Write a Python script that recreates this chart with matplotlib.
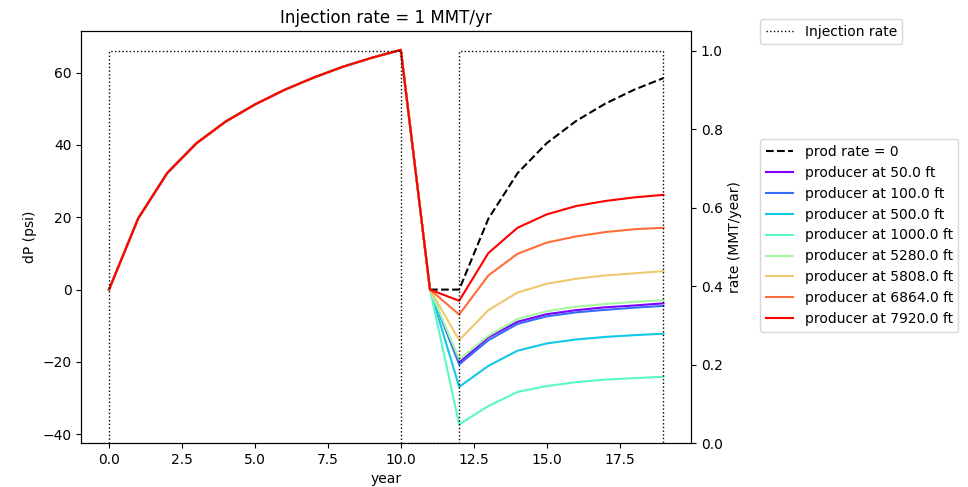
import numpy as np
import matplotlib
matplotlib.use('Agg')
import matplotlib.pyplot as plt

# jaren
years = np.arange(0, 20)

# drukopbouw tijdens injectie (jaar 0 t/m 10), zelfde voor alle reeksen
build_up = [0.0, 19.7, 32.3, 40.5, 46.5, 51.2, 55.2, 58.6, 61.6, 64.1, 66.3]

# jaar 11 t/m 19
no_prod = [0.0, 0.0, 19.6, 32.2, 40.5, 46.6, 51.4, 55.3, 58.5]
distances = [50.0, 100.0, 500.0, 1000.0, 5280.0, 5808.0, 6864.0, 7920.0]
after = [
    [0.0, -20.2, -13.2, -8.9, -6.8, -5.7, -4.9, -4.4, -3.8],
    [0.0, -20.7, -14.0, -9.5, -7.4, -6.3, -5.6, -5.0, -4.5],
    [0.0, -26.9, -21.1, -16.9, -14.9, -13.8, -13.1, -12.6, -12.2],
    [0.0, -37.3, -32.2, -28.3, -26.7, -25.6, -24.9, -24.5, -24.1],
    [0.0, -19.3, -12.8, -8.1, -6.0, -4.7, -4.0, -3.4, -2.9],
    [0.0, -14.0, -5.7, -0.8, 1.6, 3.0, 3.9, 4.5, 5.1],
    [0.0, -6.9, 3.9, 9.9, 13.0, 14.7, 15.9, 16.7, 17.1],
    [0.0, -3.1, 10.1, 17.1, 20.8, 23.1, 24.5, 25.5, 26.2],
]

# injectiedebiet (MMT/jaar)
rate_t = [0, 0, 10, 10, 12, 12, 19, 19]
rate = [0, 1, 1, 0, 0, 1, 1, 0]

colors = plt.cm.rainbow(np.linspace(0, 1, len(distances)))

fig, ax = plt.subplots(figsize=(9.68, 4.87), dpi=100)
fig.subplots_adjust(left=0.084, right=0.714, top=0.936, bottom=0.09)

ax.plot(years, build_up + no_prod, 'k--', label='prod rate = 0')
for d, vals, c in zip(distances, after, colors):
    ax.plot(years, build_up + vals, color=c, label='producer at %.1f ft' % d)
ax.set_xlabel('year')
ax.set_ylabel('dP (psi)')
ax.set_title('Injection rate = 1 MMT/yr')

ax2 = ax.twinx()
ax2.plot(rate_t, rate, 'k:', linewidth=1, label='Injection rate')
ax2.set_ylim(bottom=0)
ax2.set_ylabel('rate (MMT/year)')

ax2.legend(loc='upper left', bbox_to_anchor=(1.113, 1.029), borderaxespad=0)
ax.legend(loc='upper left', bbox_to_anchor=(1.113, 0.738), borderaxespad=0)

plt.savefig('out.png')
